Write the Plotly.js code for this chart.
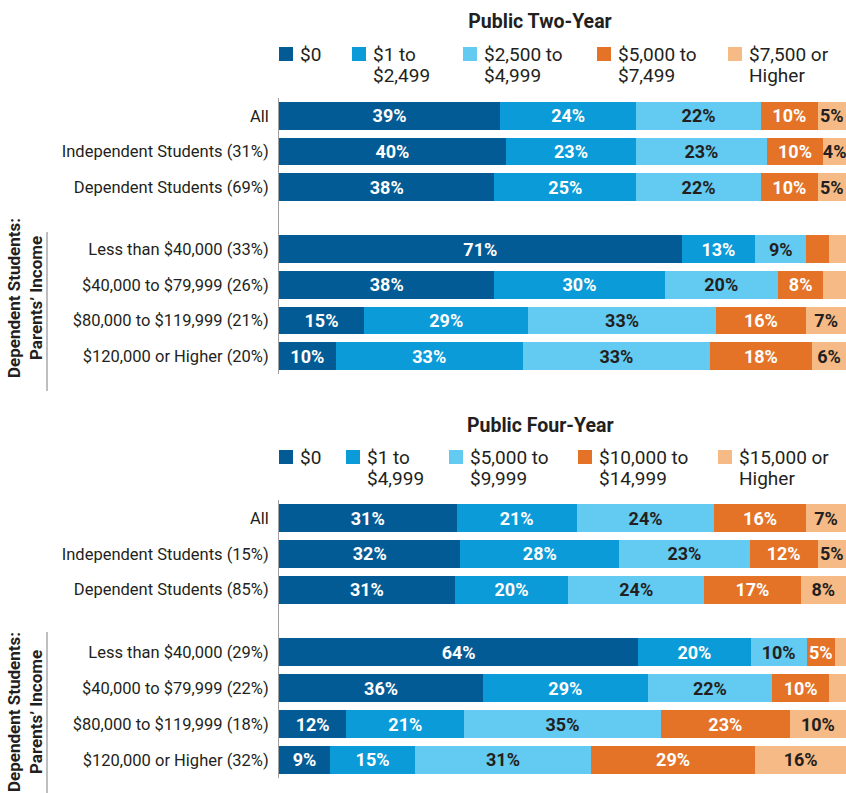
<!DOCTYPE html>
<html>
<head>
<meta charset="utf-8">
<script src="https://cdn.plot.ly/plotly-3.0.1.min.js"></script>
<style>
  html, body { margin: 0; padding: 0; background: #fff; }
  #chart { width: 846px; height: 793px; }
</style>
</head>
<body>
<div id="chart"></div>
<script>
// ---------- DATA ----------
const twoYearTitle = "Public Two-Year";
const fourYearTitle = "Public Four-Year";

const twoYearRows = ["All", "Independent Students (31%)", "Dependent Students (69%)",
  "Less than $40,000 (33%)", "$40,000 to $79,999 (26%)", "$80,000 to $119,999 (21%)", "$120,000 or Higher (20%)"];
const fourYearRows = ["All", "Independent Students (15%)", "Dependent Students (85%)",
  "Less than $40,000 (29%)", "$40,000 to $79,999 (22%)", "$80,000 to $119,999 (18%)", "$120,000 or Higher (32%)"];

const twoYearSeries = ["$0", "$1 to<br>$2,499", "$2,500 to<br>$4,999", "$5,000 to<br>$7,499", "$7,500 or<br>Higher"];
const fourYearSeries = ["$0", "$1 to<br>$4,999", "$5,000 to<br>$9,999", "$10,000 to<br>$14,999", "$15,000 or<br>Higher"];

const twoYearZero = [39, 40, 38, 71, 38, 15, 10];
const twoYearLow  = [24, 23, 25, 13, 30, 29, 33];
const twoYearMid  = [22, 23, 22, 9, 20, 33, 33];
const twoYearHigh = [10, 10, 10, 4, 8, 16, 18];
const twoYearTop  = [5, 4, 5, 3, 4, 7, 6];
// [row, segment] cells printed without a label in the original
const twoYearUnlabeled = [[3, 3], [3, 4], [4, 4]];

const fourYearZero = [31, 32, 31, 64, 36, 12, 9];
const fourYearLow  = [21, 28, 20, 20, 29, 21, 15];
const fourYearMid  = [24, 23, 24, 10, 22, 35, 31];
const fourYearHigh = [16, 12, 17, 5, 10, 23, 29];
const fourYearTop  = [7, 5, 8, 2, 3, 10, 16];
const fourYearUnlabeled = [[3, 4], [4, 4]];

const sideLabel = "<b>Dependent Students:</b><br><b>Parents\u2019 Income</b>";

// ---------- STYLE ----------
const colors = ["#035B95", "#0A9BD8", "#63CAF2", "#E47327", "#F5BA85"];
const textColors = ["#FFFFFF", "#FFFFFF", "#231F20", "#FFFFFF", "#231F20"];
const FONT = "Roboto, 'Noto Sans', sans-serif";
const INK = "#231F20";
const W = 846, H = 793;
const px = v => v / W;          // x pixel -> paper
const py = v => 1 - v / H;      // y pixel -> paper

// row positions: three summary rows, a gap, four income rows
const rowPos = twoYearRows.map((_, i) => i < 3 ? i : i + 0.75);

function buildPanel(seriesNames, seriesVals, unlabeled, axisSuffix) {
  const n = seriesVals[0].length;
  const sums = Array.from({length: n}, (_, r) => seriesVals.reduce((s, a) => s + a[r], 0));
  const hidden = new Set(unlabeled.map(c => c[0] + "-" + c[1]));
  return seriesVals.map((vals, s) => ({
    type: "bar",
    orientation: "h",
    name: seriesNames[s],
    x: vals.map((v, r) => v / sums[r] * 100),
    y: rowPos,
    text: vals.map((v, r) => hidden.has(r + "-" + s) ? "" : v + "%"),
    textposition: "inside",
    insidetextanchor: "middle",
    textangle: 0,
    constraintext: "none",
    textfont: {family: FONT, size: 18, color: textColors[s], weight: 700},
    marker: {color: colors[s], line: {width: 0}},
    width: 0.78,
    xaxis: "x" + axisSuffix,
    yaxis: "y" + axisSuffix,
    showlegend: false,
    hoverinfo: "skip"
  }));
}

const traces = [
  ...buildPanel(twoYearSeries, [twoYearZero, twoYearLow, twoYearMid, twoYearHigh, twoYearTop], twoYearUnlabeled, ""),
  ...buildPanel(fourYearSeries, [fourYearZero, fourYearLow, fourYearMid, fourYearHigh, fourYearTop], fourYearUnlabeled, "2")
];

// ---------- KEY (legend drawn as swatches + text lines) ----------
const shapes = [];
const annotations = [];
function addKey(seriesNames, itemX, firstLineY) {
  seriesNames.forEach((name, s) => {
    const x = itemX[s];
    shapes.push({type: "rect", xref: "paper", yref: "paper",
      x0: px(x), x1: px(x + 14), y0: py(firstLineY + 7), y1: py(firstLineY - 7),
      fillcolor: colors[s], line: {width: 0}});
    name.split("<br>").forEach((line, k) => {
      annotations.push({text: line, xref: "paper", yref: "paper",
        x: px(x + 19), y: py(firstLineY + k * 21), xanchor: "left", yanchor: "middle",
        showarrow: false, font: {family: FONT, size: 19, color: INK}});
    });
  });
}
addKey(twoYearSeries, [279, 352, 463, 597, 728], 54);
addKey(fourYearSeries, [279, 346, 449, 578, 718], 457);

annotations.push(
  {text: "<b>" + fourYearTitle + "</b>", xref: "paper", yref: "paper",
   x: px(540), y: py(425), xanchor: "center", yanchor: "middle", showarrow: false,
   font: {family: FONT, size: 19.5, color: INK}},
  {text: sideLabel, xref: "paper", yref: "paper", x: px(25), y: py(298),
   xanchor: "center", yanchor: "middle", textangle: -90, showarrow: false,
   font: {family: FONT, size: 17, color: INK}},
  {text: sideLabel, xref: "paper", yref: "paper", x: px(25), y: py(712),
   xanchor: "center", yanchor: "middle", textangle: -90, showarrow: false,
   font: {family: FONT, size: 17, color: INK}}
);
shapes.push(
  {type: "line", xref: "paper", yref: "paper", x0: px(47), x1: px(47), y0: py(232), y1: py(391),
   line: {color: "#A7A9AC", width: 1.5}},
  {type: "line", xref: "paper", yref: "paper", x0: px(47), x1: px(47), y0: py(632), y1: py(800),
   line: {color: "#A7A9AC", width: 1.5}}
);

function yAxis(rows, domain, anchor) {
  return {
    domain: domain,
    anchor: anchor,
    range: [7.25, -0.5],
    tickvals: rowPos,
    ticktext: rows,
    ticks: "",
    ticklabelstandoff: 6,
    showline: true,
    linecolor: "#9D9FA2",
    linewidth: 1,
    showgrid: false,
    zeroline: false,
    tickfont: {family: FONT, size: 16.5, color: INK},
    fixedrange: true
  };
}
function xAxis(anchor) {
  return {domain: [px(279), 1], anchor: anchor, range: [0, 100], visible: false, fixedrange: true};
}

const layout = {
  width: W, height: H,
  margin: {l: 0, r: 0, t: 0, b: 0},
  paper_bgcolor: "#FFFFFF",
  plot_bgcolor: "#FFFFFF",
  barmode: "stack",
  bargap: 0,
  showlegend: false,
  uniformtext: {minsize: 18, mode: "show"},
  font: {family: FONT, color: INK},
  title: {
    text: "<b>" + twoYearTitle + "</b>",
    x: px(540), xanchor: "center", xref: "paper",
    y: py(21), yanchor: "middle", yref: "paper",
    font: {family: FONT, size: 19.5, color: INK}
  },
  xaxis: xAxis("y"),
  yaxis: yAxis(twoYearRows, [py(373.8), py(98.2)], "x"),
  xaxis2: xAxis("y2"),
  yaxis2: yAxis(fourYearRows, [py(777.9), py(500.1)], "x2"),
  annotations: annotations,
  shapes: shapes
};

Plotly.newPlot("chart", traces, layout, {displayModeBar: false, staticPlot: true});
</script>
</body>
</html>
